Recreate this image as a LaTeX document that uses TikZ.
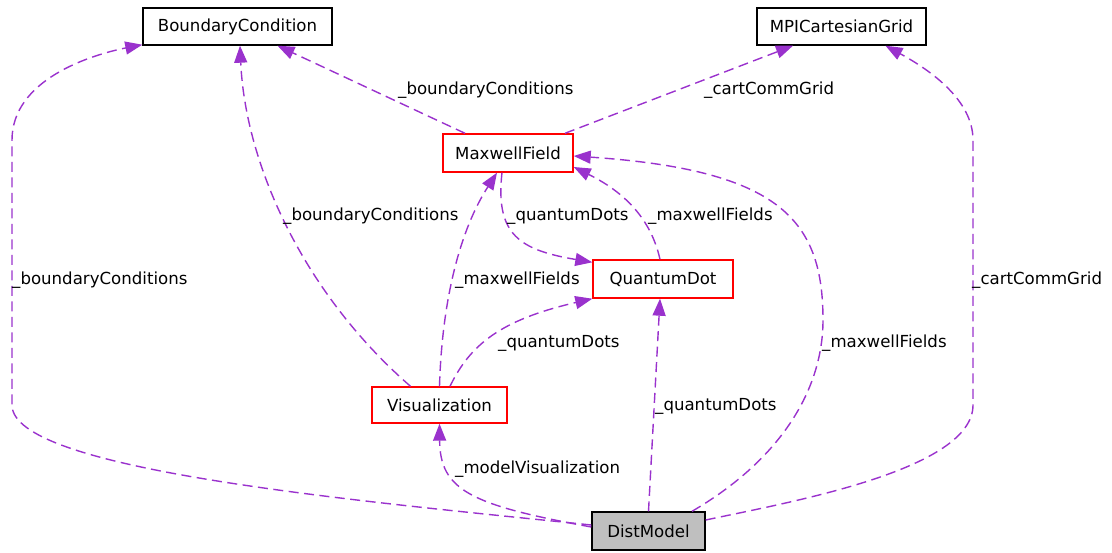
\documentclass[tikz,border=0pt]{standalone}
\usepackage{fontspec}
\setmainfont{DejaVu Sans}
\usetikzlibrary{arrows.meta}
\definecolor{edgec}{HTML}{9A32CD}
\definecolor{boxred}{HTML}{FF0000}
\definecolor{boxgray}{HTML}{BFBFBF}
\begin{document}
\begin{tikzpicture}[x=1pt,y=-1pt,
  font=\fontsize{16.6}{20}\selectfont,
  box/.style={draw=black, line width=1.4pt, minimum height=37pt, inner sep=0pt, anchor=center, text=black},
  redbox/.style={box, draw=boxred},
  graybox/.style={box, fill=boxgray},
  edge/.style={draw=edgec, line width=1.4pt, dash pattern=on 10pt off 5.5pt, -{Triangle[length=17pt,width=13pt]}},
  lbl/.style={anchor=base west, inner sep=0pt, text=black}
]
\useasboundingbox (0,0) rectangle (1112,552);
% nodes
\node[box, minimum width=189pt] (BC) at (237.5,26.5) {BoundaryCondition};
\node[box, minimum width=169pt] (MPI) at (841.5,26.5) {MPICartesianGrid};
\node[redbox, minimum width=130pt, minimum height=38pt] (MF) at (508,153) {MaxwellField};
\node[redbox, minimum width=140pt, minimum height=38pt] (QD) at (663,279) {QuantumDot};
\node[redbox, minimum width=135pt, minimum height=36pt] (Vis) at (439.5,405) {Visualization};
\node[graybox, minimum width=113pt, minimum height=38pt] (DM) at (648.5,531) {DistModel};
% edges
\draw[edge] ([xshift=-43pt]MF.north) -- ([xshift=40pt]BC.south);
\draw[edge] ([xshift=57pt]MF.north) -- ([xshift=-48.5pt]MPI.south);
\draw[edge] ([yshift=6pt]DM.west) .. controls (350,500) and (12,470) .. (12,405) -- (12,140) .. controls (12,80) and (90,55) .. ([yshift=1pt]BC.south west);
\draw[edge] ([yshift=11pt]DM.east) .. controls (790,502) and (973,470) .. (973,405) -- (973,140) .. controls (973,100) and (930,70) .. ([xshift=44pt]MPI.south);
\draw[edge] ([xshift=-29pt]Vis.north) .. controls (300,290) and (245,160) .. ([xshift=2.5pt]BC.south);
\draw[edge] (Vis.north) .. controls (442,300) and (460,230) .. ([xshift=-11pt]MF.south);
\draw[edge] ([xshift=10.5pt]Vis.north) .. controls (470,345) and (500,320) .. (QD.south west);
\draw[edge] ([xshift=-6pt]MF.south) .. controls (495,235) and (520,250) .. ([yshift=-3pt]QD.north west);
\draw[edge] ([xshift=-3pt]QD.north) .. controls (650,215) and (620,190) .. ([yshift=-14pt]MF.east);
\draw[edge] ([xshift=43.5pt]DM.north) .. controls (780,460) and (823,390) .. (823,320) .. controls (823,220) and (780,170) .. ([yshift=-3pt]MF.east);
\draw[edge] (DM.north) -- ([xshift=-3pt]QD.south);
\draw[edge] ([yshift=4pt]DM.west) .. controls (470,505) and (440,490) .. (Vis.south);
% labels
\node[lbl] (l1) at (398,94.5) {\_boundaryConditions};
\node[lbl] (l2) at (704,94.5) {\_cartCommGrid};
\node[lbl] (l3) at (283,220.5) {\_boundaryConditions};
\node[lbl] (l4) at (507,220.5) {\_quantumDots};
\node[lbl] (l5) at (648,220.5) {\_maxwellFields};
\node[lbl] (l6) at (12,284.5) {\_boundaryConditions};
\node[lbl] (l7) at (455,284.5) {\_maxwellFields};
\node[lbl] (l8) at (972,284.5) {\_cartCommGrid};
\node[lbl] (l9) at (498,347.5) {\_quantumDots};
\node[lbl] (l10) at (822,347.5) {\_maxwellFields};
\node[lbl] (l11) at (655,410.5) {\_quantumDots};
\node[lbl] (l12) at (455,473.5) {\_modelVisualization};
\end{tikzpicture}
\end{document}
